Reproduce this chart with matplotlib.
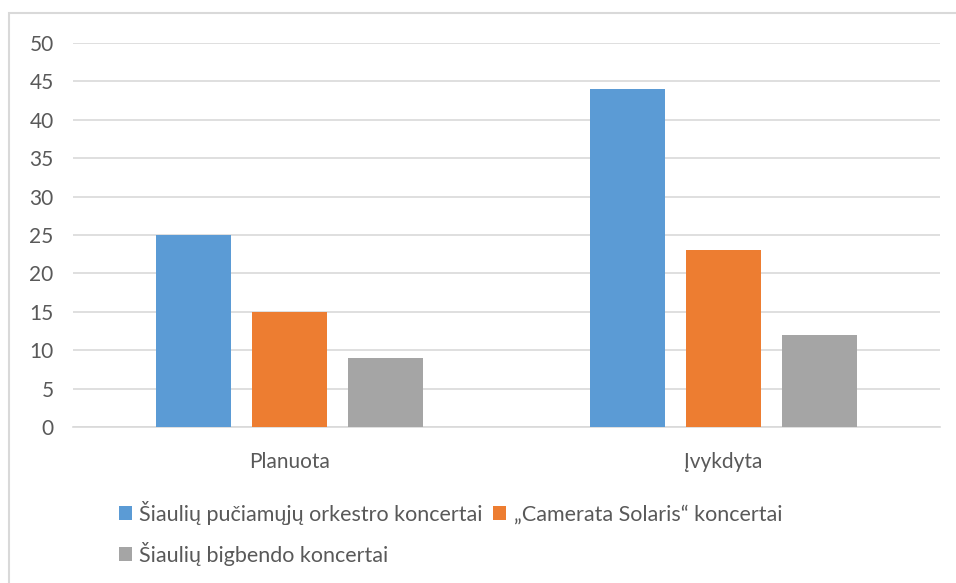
import matplotlib.pyplot as plt
import numpy as np
from matplotlib.patches import Rectangle

plt.rcParams['font.family'] = ['Lato', 'DejaVu Sans']

categories = ["Planuota", "Įvykdyta"]
series_names = ["Šiaulių pučiamųjų orkestro koncertai",
                "„Camerata Solaris“ koncertai",
                "Šiaulių bigbendo koncertai"]
values = [[25, 44], [15, 23], [9, 12]]
colours = ["#5b9bd5", "#ed7d31", "#a5a5a5"]
text_col = "#595959"

W, H = 956, 583
fig = plt.figure(figsize=(W / 100, H / 100), dpi=100)
ax = fig.add_axes([73 / W, 1 - 427 / H, 867 / W, 384 / H])

# outer chart frame (cropped at right and bottom)
fig.patches.append(Rectangle((9 / W, -0.05), 1.1, 1 - 13 / H + 0.05,
                             transform=fig.transFigure, fill=False,
                             edgecolor="#d9d9d9", linewidth=1.5))

x = np.arange(len(categories))
bw = 0.173
step = bw + 0.048
bars = []
for i, (name, vals, c) in enumerate(zip(series_names, values, colours)):
    b = ax.bar(x + (i - 1) * step, vals, bw, color=c, label=name, zorder=3)
    bars.append(b)

ax.set_xlim(-0.5, 1.5)
ax.set_ylim(0, 50)
ax.set_yticks(range(0, 51, 5))
ax.set_xticks(x)
ax.set_xticklabels(categories)
ax.grid(axis="y", color="#d9d9d9", linewidth=1.2, zorder=0)
for s in ["top", "right", "left"]:
    ax.spines[s].set_visible(False)
ax.spines["bottom"].set_color("#d9d9d9")
ax.spines["bottom"].set_linewidth(1.2)
ax.tick_params(length=0, labelsize=15, labelcolor=text_col)
ax.tick_params(axis="y", pad=14)
ax.tick_params(axis="x", pad=18)

order = [0, 2, 1]
leg = fig.legend([bars[i] for i in order], [series_names[i] for i in order],
                 ncol=2, loc="upper left", bbox_to_anchor=(110 / W, 1 - 492 / H),
                 frameon=False, fontsize=15.5, labelcolor=text_col,
                 handlelength=0.6, handleheight=0.6, handletextpad=0.35,
                 columnspacing=0.5, labelspacing=0.8, borderaxespad=0)

fig.savefig("out.png", dpi=100)
